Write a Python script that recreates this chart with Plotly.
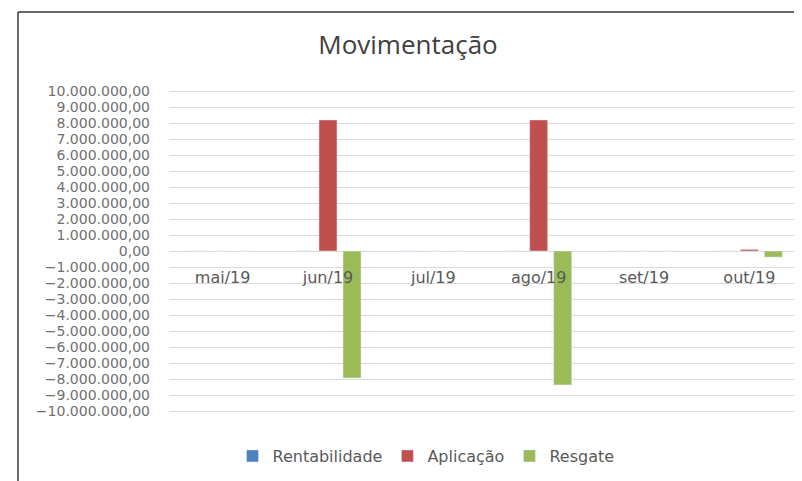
import plotly.graph_objects as go

categories = ["mai/19", "jun/19", "jul/19", "ago/19", "set/19", "out/19"]
rentabilidade = [4000, 5000, 4500, 5000, 4500, 4000]
aplicacao = [0, 8190000, 0, 8190000, 0, 100000]
resgate = [0, -7940000, 0, -8370000, 0, -380000]

OFF = 8  # browser body margin
W, H = 802 - OFF, 481 - OFF
ML, MR, MT, MB = 170 - OFF, 0, 75 - OFF, 54

fig = go.Figure()
fig.add_trace(go.Bar(name="Rentabilidade", x=categories, y=rentabilidade, marker_color="#4f81bd"))
fig.add_trace(go.Bar(name="Aplicação", x=categories, y=aplicacao, marker_color="#c0504d"))
fig.add_trace(go.Bar(name="Resgate", x=categories, y=resgate, marker_color="#9bbb59"))

pw = W - ML - MR
ph = H - MT - MB
def px_x(p):
    return (p - OFF - ML) / pw
def px_y(p):
    return (H - MB - (p - OFF)) / ph

fig.update_layout(
    width=W, height=H,
    margin=dict(l=ML, r=MR, t=MT, b=MB),
    paper_bgcolor="white", plot_bgcolor="white",
    separators=",.",
    barmode="group", bargap=0.316, bargroupgap=0.25,
    font=dict(family="DejaVu Sans", color="#595959"),
    title=dict(text="Movimentação", x=(408 - OFF) / W, xanchor="center",
               y=1 - (45 - OFF) / H, yanchor="middle",
               font=dict(family="Open Sans", size=26, color="#404040")),
    showlegend=True,
    legend=dict(orientation="h", x=px_x(426), xanchor="center", y=px_y(456), yanchor="middle",
                font=dict(family="DejaVu Sans", size=16, color="#595959"),
                itemwidth=30, tracegroupgap=0),
    xaxis=dict(anchor="free", position=0.5, showgrid=False, showline=False,
               ticks="", tickfont=dict(family="DejaVu Sans", size=16, color="#595959"),
               ticklabelstandoff=15),
    yaxis=dict(range=[-11000000, 11000000], tickvals=[i * 1000000 for i in range(-10, 11)],
               tickformat=",.2f", showgrid=True, gridcolor="#d9d9d9", gridwidth=1,
               zeroline=True, zerolinecolor="#d9d9d9", zerolinewidth=1,
               showline=False, ticks="", ticklabelstandoff=19,
               tickfont=dict(family="DejaVu Sans", size=14, color="#707070")),
    shapes=[
        dict(type="line", xref="paper", yref="paper", x0=px_x(18), x1=px_x(805), y0=px_y(12), y1=px_y(12),
             line=dict(color="#3a3a3a", width=1.5)),
        dict(type="line", xref="paper", yref="paper", x0=px_x(18), x1=px_x(18), y0=px_y(12), y1=px_y(485),
             line=dict(color="#3a3a3a", width=1.5)),
    ],
)

fig.write_html("out.html")
